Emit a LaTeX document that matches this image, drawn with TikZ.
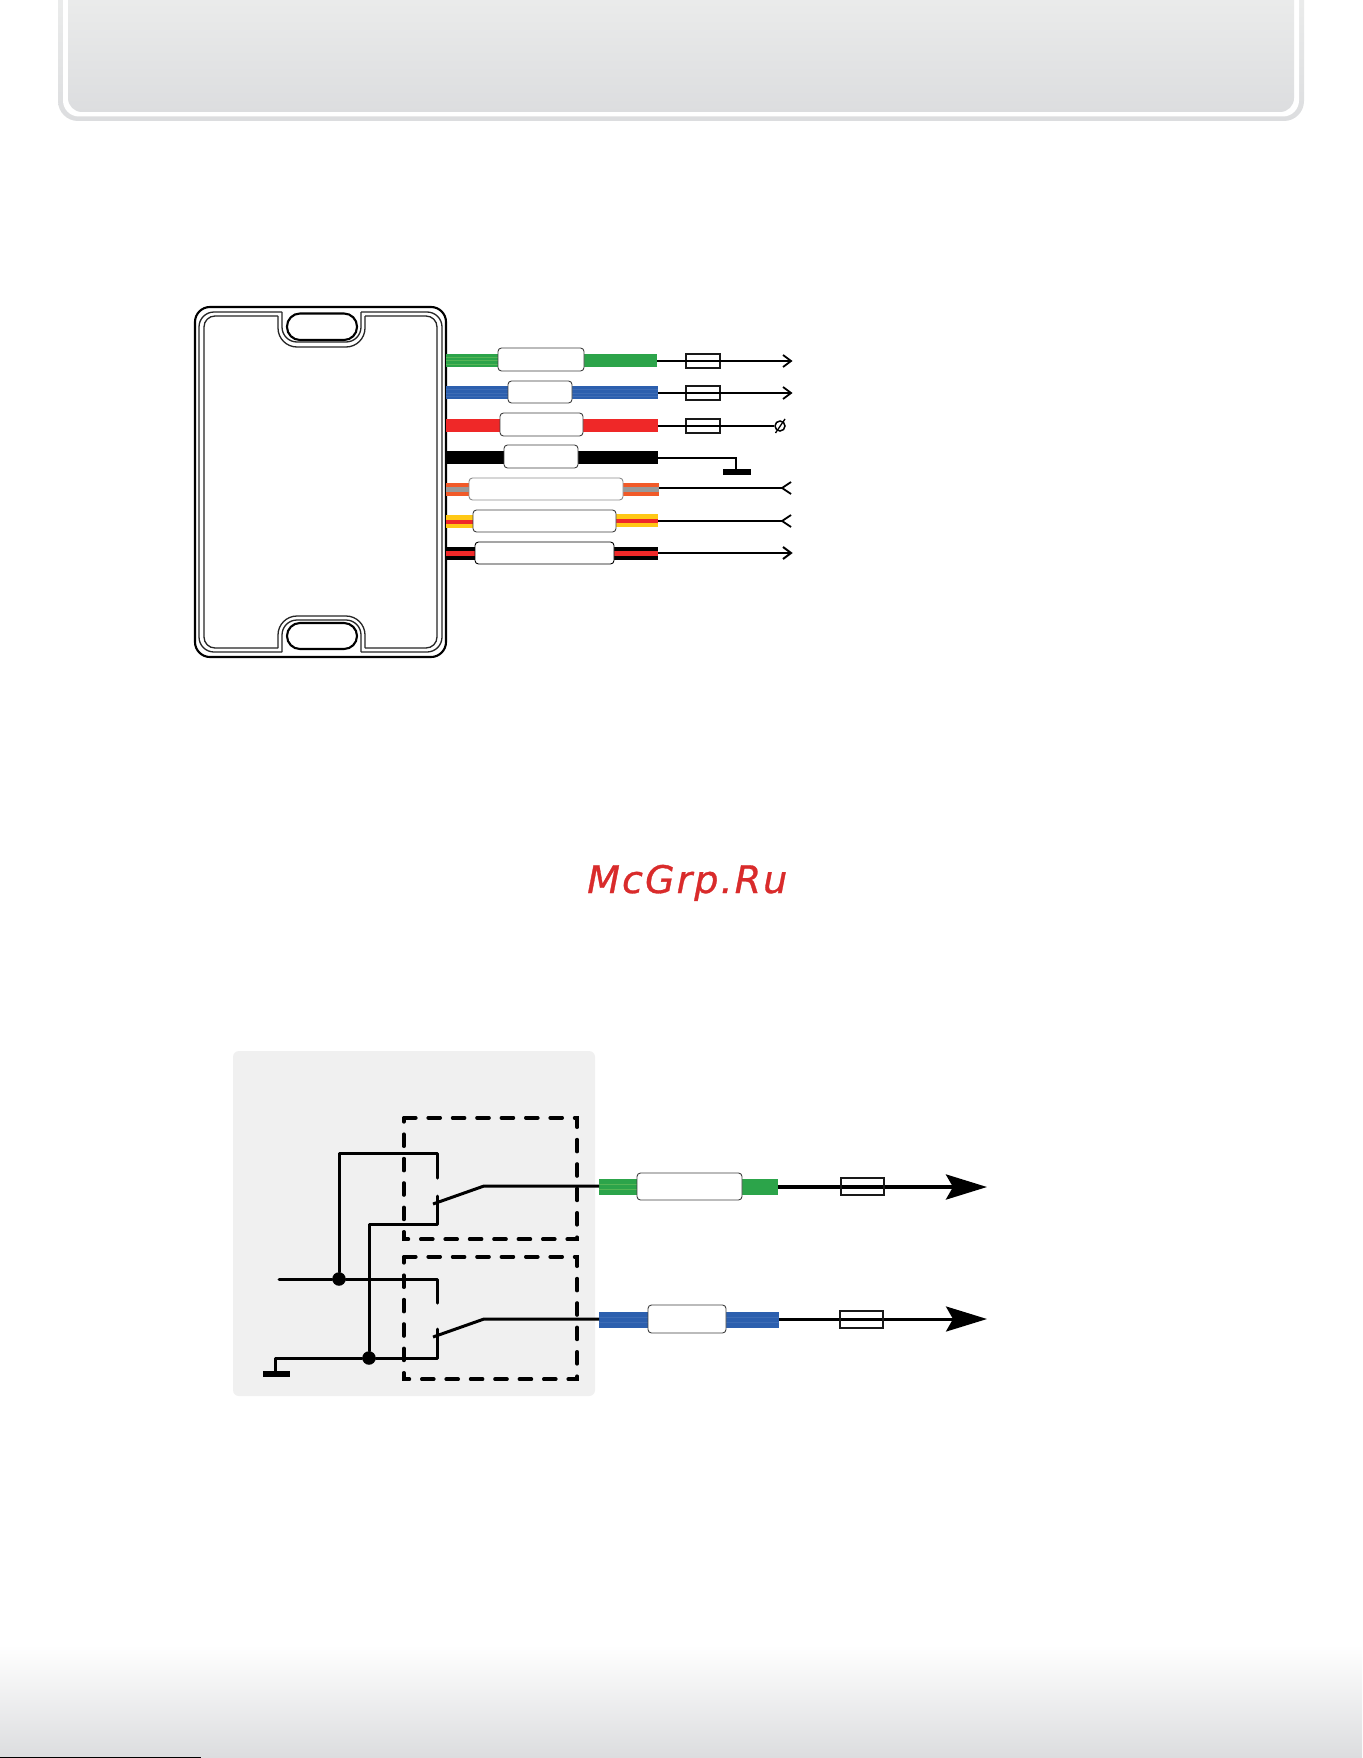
\documentclass[tikz,border=0pt]{standalone}
\usepackage{fontspec}
\usetikzlibrary{arrows.meta}
\newfontfamily\wmfont[LetterSpace=5.5,ItalicFeatures={FakeBold=0.8}]{DejaVu Sans}
\definecolor{wgreen}{HTML}{2CA44A}
\definecolor{wgreenl}{HTML}{55B556}
\definecolor{wblue}{HTML}{2C5FAE}
\definecolor{wbluel}{HTML}{3D6CB5}
\definecolor{wred}{HTML}{EF2828}
\definecolor{worange}{HTML}{F15A29}
\definecolor{wgray}{HTML}{999999}
\definecolor{wyellow}{HTML}{FFC815}
\definecolor{panelgray}{HTML}{F0F0F0}
\definecolor{bandtop}{HTML}{EEEFEE}
\definecolor{bandbot}{HTML}{DCDDDF}
\definecolor{wmred}{HTML}{D92B2B}
\tikzset{
  x=1pt,y=-1pt,
  labelbox/.style={draw=black!75,line width=.9pt,fill=white,rounded corners=3.5pt},
  tag/.style={labelbox},
  fuse/.style={draw=black!90,line width=1.5pt,fill=none},
  thin wire/.style={line width=1.8pt,black},
  chevron/.style={line width=1.8pt,black,line join=miter,fill=none},
  thick wire/.style={line width=3pt,black,line cap=round,line join=round},
  bigarrow/.style={-{Stealth[length=41pt,width=25pt,inset=7pt]}},
  dashframe/.style={minimum width=173pt,inner sep=0pt},
  dashline/.style={draw=black,line width=3.6pt,dash pattern=on 12pt off 12.4pt,line cap=round},
  dev outer/.style={draw=black,line width=2.1pt},
  dev inner/.style={draw=black!85,line width=1.3pt,line cap=square},
  dot/.style={circle,fill=black,inner sep=0pt,minimum size=13.5pt},
  groundbar/.style={fill=black}
}
\begin{document}
\begin{tikzpicture}
\useasboundingbox (0,0) rectangle (1362,1758);
\begin{scope}
\clip (0,0) rectangle (1362,1758);
\fill[white] (0,0) rectangle (1362,1758);
% header
\shade[top color=bandtop,bottom color=bandbot,rounded corners=20pt] (58,-30) rectangle (1304,121);
\fill[white,rounded corners=16pt] (63,-30) rectangle (1299,116.5);
\shade[top color=bandtop,bottom color=bandbot,rounded corners=14pt] (68,-30) rectangle (1294,112);
% footer
\shade[top color=white,bottom color=bandbot] (0,1645) rectangle (1362,1757);
\fill[bandbot] (0,1756) rectangle (1362,1758);
\fill[black] (0,1756.7) rectangle (201,1758);
\end{scope}

% device
\draw[dev outer,rounded corners=15pt] (195,307) rectangle (446,657);
\begin{scope}[dev inner]
\draw[rounded corners=15pt] (282,312) -- (199,312) -- (199,652) -- (282,652);
\draw[rounded corners=15pt] (361,312) -- (442,312) -- (442,652) -- (361,652);
\draw[rounded corners=15pt] (282,312) -- (282,342) -- (361,342) -- (361,312);
\draw[rounded corners=15pt] (282,652) -- (282,620) -- (361,620) -- (361,652);
\draw[rounded corners=11pt] (278,316) -- (204,316) -- (204,648) -- (278,648);
\draw[rounded corners=11pt] (365,316) -- (437,316) -- (437,648) -- (365,648);
\draw[rounded corners=19pt] (278,316) -- (278,347) -- (365,347) -- (365,316);
\draw[rounded corners=19pt] (278,648) -- (278,616) -- (365,616) -- (365,648);
\end{scope}
\draw[dev outer,rounded corners=13pt] (287,313.5) rectangle (357,340);
\draw[dev outer,rounded corners=13pt] (287,623) rectangle (357,649);

% wires upper: green
\fill[wgreen] (446,354) rectangle (657,367);
\foreach \y in {357,360.5,364}{\draw[wgreenl,line width=.7pt] (446,\y) -- (498,\y);}
\node[tag,minimum width=86pt,minimum height=23pt,inner sep=0pt] (tg) at (541,359.5) {};
\node[fuse,minimum width=34pt,minimum height=14pt,inner sep=0pt] (fg) at (703,361) {};
\coordinate (g0) at (657,361);
\coordinate (g1) at (791,361);
\draw[thin wire] (g0) -- (g1);
\draw[chevron] (g1) ++(-8,-6) -- (g1) -- ++(-8,6);
% blue
\fill[wblue] (446,386) rectangle (658,399);
\foreach \y in {389.5,393,396.5}{\draw[wbluel,line width=.7pt] (446,\y) -- (658,\y);}
\node[tag,minimum width=64pt,minimum height=22pt,inner sep=0pt] (tb) at (540,392) {};
\node[fuse,minimum width=34pt,minimum height=14pt,inner sep=0pt] (fb) at (703,393) {};
\coordinate (b0) at (658,393);
\coordinate (b1) at (791,393);
\draw[thin wire] (b0) -- (b1);
\draw[chevron] (b1) ++(-8,-6) -- (b1) -- ++(-8,6);
% red
\fill[wred] (446,419) rectangle (658,432);
\node[tag,minimum width=83pt,minimum height=23pt,inner sep=0pt] (tr) at (541.5,424.5) {};
\node[fuse,minimum width=34pt,minimum height=14pt,inner sep=0pt] (fr) at (703,426) {};
\coordinate (r0) at (658,426);
\node[draw=black,line width=1.5pt,circle,minimum size=10pt,inner sep=0pt] (rend) at (780,426) {};
\draw[line width=1.3pt] (775.5,433) -- (785,419);
\draw[thin wire] (r0) -- (rend.west);
% black
\fill[black] (446,451) rectangle (658,464);
\node[tag,minimum width=74pt,minimum height=23pt,inner sep=0pt] (tk) at (541,456.5) {};
\coordinate (k0) at (658,458);
\coordinate (k1) at (736,472);
\draw[thin wire] (k0) -| (k1);
\fill[groundbar] (723,469) rectangle (751,475);
% orange grey
\fill[worange] (446,483) rectangle (659,496);
\fill[wgray] (446,487) rectangle (659,491.5);
\node[tag,draw=black!45,minimum width=154pt,minimum height=22pt,inner sep=0pt] (to) at (546,489) {};
\coordinate (o0) at (659,488);
\coordinate (o1) at (782,488);
\draw[thin wire] (o0) -- (o1);
\draw[chevron] (o1) ++(9,-6) -- (o1) -- ++(9,6);
% yellow red
\fill[wyellow] (446,515) rectangle (473,528);
\fill[wred] (446,519.5) rectangle (473,523.5);
\fill[wyellow] (616,514) rectangle (658,527);
\fill[wred] (616,518.5) rectangle (658,522.5);
\node[tag,minimum width=143pt,minimum height=22pt,inner sep=0pt] (ty) at (544.5,521) {};
\coordinate (y0) at (658,521);
\coordinate (y1) at (782,521);
\draw[thin wire] (y0) -- (y1);
\draw[chevron] (y1) ++(9,-6) -- (y1) -- ++(9,6);
% black red
\fill[black] (446,547) rectangle (658,560);
\fill[wred] (446,551.3) rectangle (658,555.5);
\node[tag,draw=black,minimum width=139pt,minimum height=22pt,inner sep=0pt] (tz) at (544.5,553) {};
\coordinate (z0) at (658,553);
\coordinate (z1) at (791,553);
\draw[thin wire,line width=2.4pt] (z0) -- (z1);
\draw[chevron,line width=2pt] (z1) ++(-8,-6) -- (z1) -- ++(-8,6);

% watermark
\node[anchor=base west,inner sep=0pt,text=wmred,font=\wmfont\itshape\fontsize{38}{38}\selectfont] (wm) at (587,893) {McGrp.Ru};

% lower panel
\fill[panelgray,rounded corners=6pt] (233,1051) rectangle (595,1396);
\node[dashframe,minimum height=121pt] (db1) at (490.5,1178.5) {};
\node[dashframe,minimum height=122pt] (db2) at (490.5,1318) {};
\draw[dashline] (db1.north west) -- (db1.north east) -- (db1.south east) -- (db1.south west) -- cycle;
\draw[dashline] (db2.north west) -- (db2.north east) -- (db2.south east) -- (db2.south west) -- cycle;
\node[dot] (j1) at (339,1279) {};
\node[dot] (j2) at (369,1358) {};
\coordinate (c1) at (437,1178);
\coordinate (c2) at (437,1196);
\coordinate (c3) at (437,1303);
\coordinate (c4) at (437,1329);
\coordinate (in) at (279,1279);
\coordinate (gnd) at (275,1373);
\draw[thick wire] (j1) |- (437,1153) -- (c1);
\draw[thick wire] (j2) |- (437,1224) -- (c2);
\draw[thick wire] (in) -- (j1) -- (437,1279) -- (c3);
\draw[thick wire] (gnd) |- (j2) -- (437,1358) -- (c4);
\fill[groundbar] (263,1371) rectangle (290,1377);
% green lower
\fill[wgreen] (599,1179) rectangle (778,1195);
\foreach \y in {1184,1189.5}{\draw[wgreenl,line width=.7pt] (599,\y) -- (637,\y);}
\fill[wblue] (599,1312) rectangle (779,1328);
\foreach \y in {1317,1322.5}{\draw[wbluel,line width=.7pt] (599,\y) -- (779,\y);}
\coordinate (a1s) at (433,1204);
\coordinate (a1k) at (484,1186);
\coordinate (a1e) at (599,1186);
\coordinate (a2s) at (433,1337);
\coordinate (a2k) at (484,1319);
\coordinate (a2e) at (599,1319);
\draw[thick wire,line cap=butt] (a1s) -- (a1k) -- (a1e);
\draw[thick wire,line cap=butt] (a2s) -- (a2k) -- (a2e);
\node[labelbox,minimum width=105pt,minimum height=27pt,inner sep=0pt] (lg) at (689.5,1186.5) {};
\node[labelbox,minimum width=78pt,minimum height=28pt,inner sep=0pt] (lb) at (687,1319) {};
\coordinate (lg0) at (778,1187);
\coordinate (lg1) at (987,1187);
\coordinate (lb0) at (779,1319);
\coordinate (lb1) at (987,1319);
\draw[line width=4pt,bigarrow] (lg0) -- (lg1);
\draw[line width=3pt,bigarrow] (lb0) -- (lb1);
\node[fuse,line width=1.7pt,minimum width=43pt,minimum height=17pt,inner sep=0pt] (flg) at (862.5,1186.5) {};
\node[fuse,line width=1.7pt,minimum width=43pt,minimum height=17pt,inner sep=0pt] (flb) at (861.5,1319.5) {};
\end{tikzpicture}
\end{document}
